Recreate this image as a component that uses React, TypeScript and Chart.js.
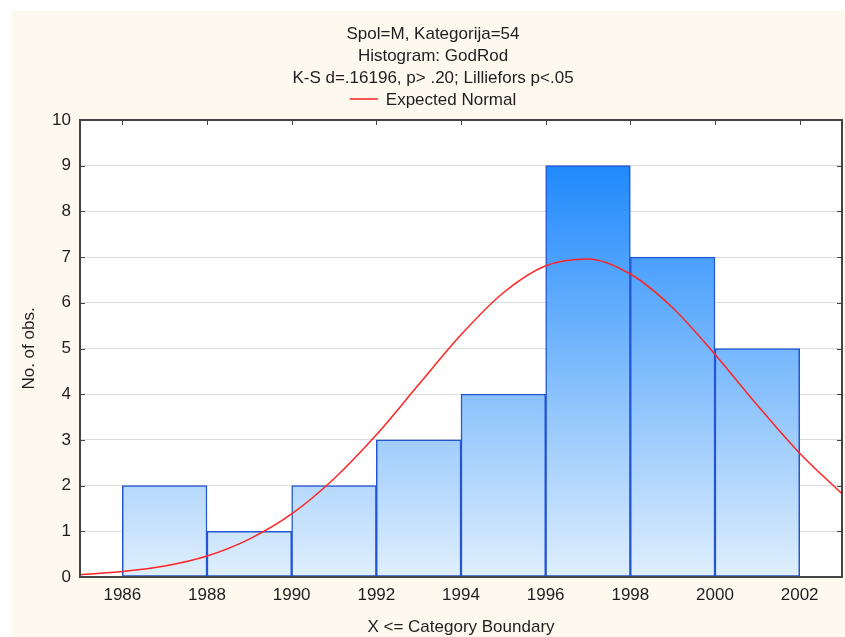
import { useEffect, useRef } from "react";
import { Chart, registerables } from "chart.js";

Chart.register(...registerables);

// ---- data ----
const binStarts = [1986, 1988, 1990, 1992, 1994, 1996, 1998, 2000];
const counts = [2, 1, 2, 3, 4, 9, 7, 5];
const binWidth = 2;

const curveX = [1985, 1986, 1987, 1988, 1989, 1990, 1991, 1992, 1993, 1994, 1995, 1996, 1997, 1998, 1999, 2000, 2001, 2002, 2003];
const curveY = [0.05, 0.12, 0.24, 0.46, 0.83, 1.38, 2.15, 3.11, 4.21, 5.3, 6.22, 6.81, 6.96, 6.63, 5.89, 4.87, 3.76, 2.71, 1.82];

const xTicks = [1986, 1988, 1990, 1992, 1994, 1996, 1998, 2000, 2002];
const yTicks = [0, 1, 2, 3, 4, 5, 6, 7, 8, 9, 10];

const titleLines = ["Spol=M, Kategorija=54", "Histogram: GodRod", "K-S d=.16196, p> .20; Lilliefors p<.05"];
const legendLabel = "Expected Normal";
const xTitle = "X <= Category Boundary";
const yTitle = "No. of obs.";

const FONT = '"Liberation Sans", Arial, sans-serif';
const TEXT = "#1e1e1e";
const CREAM = "#fdf9ef";

const decorPlugin = {
  id: "decor",
  beforeDraw(chart: any) {
    const { ctx, chartArea: a, width, height } = chart;
    ctx.save();
    ctx.fillStyle = CREAM;
    ctx.fillRect(0, 0, width, height);
    ctx.fillStyle = "#ffffff";
    ctx.fillRect(a.left, a.top, a.right - a.left, a.bottom - a.top);
    ctx.restore();
  },
  afterDraw(chart: any) {
    const { ctx, chartArea: a } = chart;
    const xs = chart.scales.x;
    const ys = chart.scales.y;
    ctx.save();
    // frame
    ctx.strokeStyle = "#444444";
    ctx.lineWidth = 2;
    ctx.strokeRect(a.left, a.top, a.right - a.left, a.bottom - a.top);
    // inside ticks
    ctx.lineWidth = 1;
    ctx.beginPath();
    yTicks.forEach((v) => {
      const y = Math.round(ys.getPixelForValue(v)) + 0.5;
      ctx.moveTo(a.left, y);
      ctx.lineTo(a.left + 5, y);
      ctx.moveTo(a.right - 5, y);
      ctx.lineTo(a.right, y);
    });
    xTicks.forEach((v) => {
      const x = Math.round(xs.getPixelForValue(v)) + 0.5;
      ctx.moveTo(x, a.top);
      ctx.lineTo(x, a.top + 5);
    });
    ctx.stroke();

    // titles
    ctx.fillStyle = TEXT;
    ctx.font = `17px ${FONT}`;
    ctx.textAlign = "center";
    ctx.textBaseline = "alphabetic";
    const cx = 421;
    titleLines.forEach((t, i) => ctx.fillText(t, cx, 28 + i * 22));

    // legend
    const tw = ctx.measureText(legendLabel).width;
    const lineLen = 28;
    const gap = 8;
    const total = lineLen + gap + tw;
    const lx = cx - total / 2;
    ctx.strokeStyle = "#ff2020";
    ctx.lineWidth = 1.5;
    ctx.beginPath();
    ctx.moveTo(lx, 88);
    ctx.lineTo(lx + lineLen, 88);
    ctx.stroke();
    ctx.textAlign = "left";
    ctx.fillText(legendLabel, lx + lineLen + gap, 94);

    // axis titles
    ctx.textAlign = "center";
    ctx.fillText(xTitle, (a.left + a.right) / 2, 621);
    ctx.translate(17, (a.top + a.bottom) / 2);
    ctx.rotate(-Math.PI / 2);
    ctx.textBaseline = "middle";
    ctx.fillText(yTitle, 0, 0);
    ctx.restore();
  },
};

export default function App() {
  const ref = useRef<HTMLCanvasElement | null>(null);

  useEffect(() => {
    if (!ref.current) return;
    const barData = binStarts.map((s, i) => ({ x: s + binWidth / 2, y: counts[i] }));
    const lineData = curveX.map((x, i) => ({ x, y: curveY[i] }));

    const chart = new Chart(ref.current, {
      type: "bar",
      data: {
        datasets: [
          {
            type: "line",
            label: legendLabel,
            data: lineData as any,
            borderColor: "#ff2424",
            borderWidth: 1.5,
            pointRadius: 0,
            cubicInterpolationMode: "monotone",
            order: 0,
          } as any,
          {
            type: "bar",
            label: "Histogram",
            data: barData as any,
            backgroundColor: (c: any) => {
              const a = c.chart.chartArea;
              if (!a) return "#6fb3fb";
              const g = c.chart.ctx.createLinearGradient(0, a.top, 0, a.bottom);
              g.addColorStop(0, "#0a7efc");
              g.addColorStop(1, "#e0effd");
              return g;
            },
            borderColor: "#2456d2",
            borderWidth: 1.5,
            borderSkipped: false,
            barPercentage: 1,
            categoryPercentage: 1,
            grouped: false,
            order: 1,
          } as any,
        ],
      },
      options: {
        animation: false,
        responsive: false,
        maintainAspectRatio: false,
        layout: { padding: { top: 109, right: 3, bottom: 0, left: 0 } },
        plugins: {
          legend: { display: false },
          title: { display: false },
          tooltip: { enabled: false },
        },
        scales: {
          x: {
            type: "linear",
            offset: false,
            min: 1985,
            max: 2003,
            grid: { display: false, drawTicks: false, offset: false },
            border: { display: false },
            ticks: {
              font: { family: FONT, size: 17 },
              color: TEXT,
              padding: 8,
              autoSkip: false,
              maxRotation: 0,
              callback: (v: any) => String(v),
            },
            afterBuildTicks: (s: any) => {
              s.ticks = xTicks.map((v) => ({ value: v }));
            },
            afterFit: (s: any) => {
              s.height = 60;
            },
          },
          y: {
            type: "linear",
            min: 0,
            max: 10,
            grid: { color: "#dcdcdc", lineWidth: 1, drawTicks: false },
            border: { display: false },
            ticks: { font: { family: FONT, size: 17 }, color: TEXT, padding: 9, callback: (v: any) => String(v) },
            afterBuildTicks: (s: any) => {
              s.ticks = yTicks.map((v) => ({ value: v }));
            },
            afterFit: (s: any) => {
              s.width = 68;
            },
          },
        },
      },
      plugins: [decorPlugin],
    });
    return () => chart.destroy();
  }, []);

  return (
    <div style={{ position: "absolute", left: 12, top: 11, width: 833, height: 626, background: CREAM, overflow: "hidden" }}>
      <canvas ref={ref} width={833} height={626} style={{ display: "block", width: 833, height: 626 }} />
    </div>
  );
}
